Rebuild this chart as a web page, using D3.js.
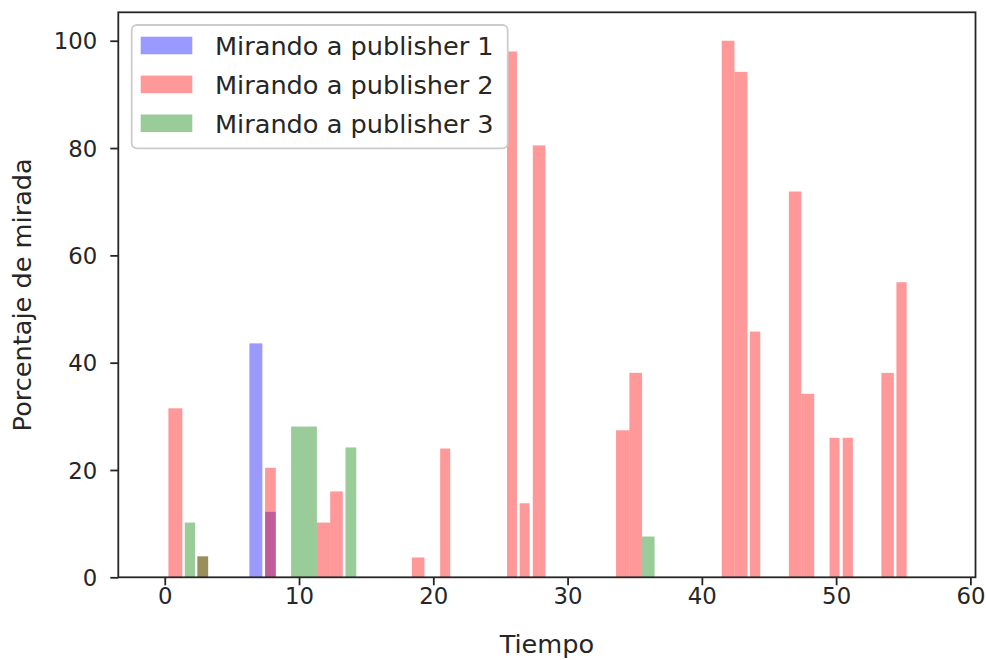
<!doctype html>
<html lang="es">
<head>
  <meta charset="utf-8">
  <style>
    body { margin: 0; background: #fff; }
    text { font-family: "DejaVu Sans", sans-serif; fill: #262626; }
    .tick text { font-size: 22.8px; }
    .axis-label { font-size: 25.6px; }
    .legend text { font-size: 25.6px; }
  </style>
  <script src="https://d3js.org/d3.v7.min.js"></script>
</head>
<body>
<script>
// series names (legend)
const series = ["Mirando a publisher 1", "Mirando a publisher 2", "Mirando a publisher 3"];
const colors = ["blue", "red", "green"];

// each bar: start time, end time, percentage
const p1Inicio = [6.30, 7.47];
const p1Fin    = [7.27, 8.27];
const p1Valor  = [43.6, 12.2];

const p2Inicio = [0.27, 2.43, 7.47, 11.33, 12.32, 18.40, 20.51, 25.49, 26.43, 27.41, 33.61, 34.60, 41.48, 42.43, 43.58, 46.48, 47.41, 49.51, 50.49, 53.37, 54.49];
const p2Fin    = [1.31, 3.23, 8.27, 12.32, 13.26, 19.34, 21.26, 26.23, 27.17, 28.35, 34.60, 35.55, 42.43, 43.39, 44.35, 47.41, 48.37, 50.25, 51.25, 54.30, 55.25];
const p2Valor  = [31.5, 3.9, 20.4, 10.2, 16.0, 3.7, 24.0, 98.0, 13.8, 80.5, 27.4, 38.1, 100.0, 94.2, 45.8, 71.9, 34.2, 26.0, 26.0, 38.1, 55.0];

const p3Inicio = [1.49, 2.43, 9.41, 13.46, 35.55];
const p3Fin    = [2.26, 3.23, 11.33, 14.26, 36.48];
const p3Valor  = [10.2, 3.9, 28.1, 24.2, 7.6];

const xTicks = [0, 10, 20, 30, 40, 50, 60];
const yTicks = [0, 20, 40, 60, 80, 100];

const allBars = [
  [p1Inicio, p1Fin, p1Valor],
  [p2Inicio, p2Fin, p2Valor],
  [p3Inicio, p3Fin, p3Valor]
].map((s, k) => s[0].map((d, i) => ({ serie: k, inicio: d, fin: s[1][i], valor: s[2][i] })));

const W = 986, H = 660;
const margin = { top: 12.3, right: 10.5, bottom: 82.7, left: 118.3 };
const width = W - margin.left - margin.right;
const height = H - margin.top - margin.bottom;

const svg = d3.select("body").append("svg")
    .attr("width", W)
    .attr("height", H);

const g = svg.append("g")
    .attr("transform", `translate(${margin.left},${margin.top})`);

const x = d3.scaleLinear().domain([-3.46, 60.38]).range([0, width]);
const y = d3.scaleLinear().domain([0, 105.3]).range([height, 0]);

// bars
allBars.forEach((bars, k) => {
  g.append("g").selectAll("rect")
    .data(bars)
    .join("rect")
    .attr("x", d => x(d.inicio))
    .attr("y", d => y(d.valor))
    .attr("width", d => x(d.fin) - x(d.inicio))
    .attr("height", d => height - y(d.valor))
    .attr("fill", colors[k])
    .attr("fill-opacity", 0.4);
});

// axes
const xAxis = g.append("g")
    .attr("transform", `translate(0,${height})`)
    .call(d3.axisBottom(x).tickValues(xTicks).tickSize(8).tickPadding(3).tickFormat(d3.format("d")));
const yAxis = g.append("g")
    .call(d3.axisLeft(y).tickValues(yTicks).tickSize(8).tickPadding(13).tickFormat(d3.format("d")));
[xAxis, yAxis].forEach(a => {
  a.select(".domain").remove();
  a.selectAll(".tick line").attr("stroke", "#262626").attr("stroke-width", 1.8);
  a.selectAll(".tick text").attr("font-family", null).attr("font-size", null);
});
yAxis.selectAll(".tick text").attr("dy", "0.36em");

// frame
g.append("rect")
    .attr("width", width)
    .attr("height", height)
    .attr("fill", "none")
    .attr("stroke", "#262626")
    .attr("stroke-width", 1.8);

// axis labels
svg.append("text")
    .attr("class", "axis-label")
    .attr("x", margin.left + width / 2)
    .attr("y", 653)
    .attr("text-anchor", "middle")
    .text("Tiempo");

svg.append("text")
    .attr("class", "axis-label")
    .attr("transform", `translate(31,${margin.top + height / 2}) rotate(-90)`)
    .attr("text-anchor", "middle")
    .text("Porcentaje de mirada");

// legend
const legend = svg.append("g").attr("class", "legend");
legend.append("rect")
    .attr("x", 131.7).attr("y", 25)
    .attr("width", 376).attr("height", 123.3)
    .attr("rx", 5)
    .attr("fill", "#fff").attr("fill-opacity", 0.8)
    .attr("stroke", "#cccccc").attr("stroke-width", 1.8);

series.forEach((name, k) => {
  const cy = 45.5 + k * 38.9;
  legend.append("rect")
      .attr("x", 140.7).attr("y", cy - 8.8)
      .attr("width", 51.6).attr("height", 17.6)
      .attr("fill", colors[k]).attr("fill-opacity", 0.4);
  legend.append("text")
      .attr("x", 215).attr("y", cy)
      .attr("dy", "0.36em")
      .text(name);
});
</script>
</body>
</html>
